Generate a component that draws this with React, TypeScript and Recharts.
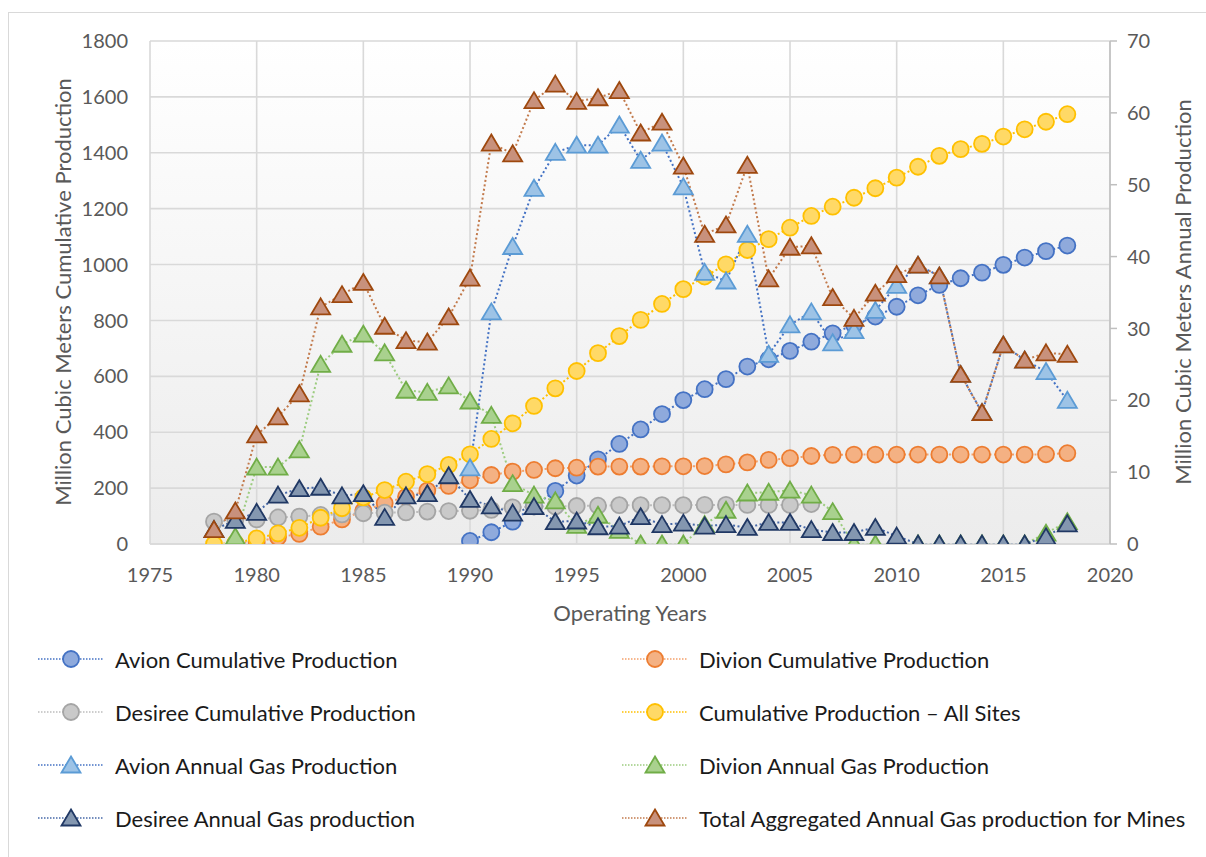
import React from 'react';
import { ComposedChart, Line, XAxis, YAxis, CartesianGrid } from 'recharts';

const years = [
  1978, 1979, 1980, 1981, 1982, 1983, 1984, 1985, 1986, 1987, 1988, 1989, 1990, 1991,
  1992, 1993, 1994, 1995, 1996, 1997, 1998, 1999, 2000, 2001, 2002, 2003, 2004, 2005,
  2006, 2007, 2008, 2009, 2010, 2011, 2012, 2013, 2014, 2015, 2016, 2017, 2018,
];

const avionCumulative = [
  null, null, null, null, null, null, null, null, null, null, null, null,
  11, 42, 80, 135, 190, 245, 303, 358, 410, 465, 515, 554, 590, 635, 661, 691, 724, 754,
  784, 814, 849, 890, 927, 951, 971, 999, 1025, 1048, 1068,
];

const divionCumulative = [
  null, 2, 8, 24, 36, 62, 88, 119, 146, 169, 191, 208, 228, 247, 259, 265, 271, 273, 277,
  277, 277, 278, 278, 279, 285, 292, 301, 307, 315, 319, 320, 320, 320, 320, 320, 320,
  320, 320, 320, 321, 325,
];

const desireeCumulative = [
  80, 86, 88, 95, 98, 104, 106, 110, 112, 113, 116, 118, 119, 122, 131, 134, 134, 136, 137,
  139, 139, 139, 139, 140, 140, 140, 140, 140, 143, null, null, null, null, null, null,
  null, null, null, null, null, null,
];

const allSitesCumulative = [
  0, 3, 20, 38, 58, 94, 128, 167, 193, 223, 250, 283, 321, 376, 432, 494, 557, 619, 683,
  744, 802, 859, 912, 957, 1001, 1052, 1091, 1132, 1174, 1207, 1239, 1273, 1311, 1350,
  1389, 1413, 1432, 1458, 1484, 1511, 1538,
];

const avionAnnual = [
  null, null, null, null, null, null, null, null, null, null, null, null,
  10.6, 32.3, 41.4, 49.5, 54.5, 55.5, 55.5, 58.3, 53.4, 55.8, 49.7, 37.8, 36.6, 43.1, 26.4,
  30.5, 32.3, 28.0, 29.7, 32.5, 36.0, 38.8, 37.3, 23.6, 18.3, 27.7, 25.6, 24.0, 20.0,
];

const divionAnnual = [
  null, 1.0, 10.7, 10.7, 13.1, 25.0, 27.8, 29.2, 26.6, 21.4, 21.1, 22.0, 19.9, 17.9, 8.4,
  6.8, 6.0, 2.6, 4.0, 1.9, 0, 0, 0, 2.7, 4.7, 7.1, 7.2, 7.5, 6.8, 4.5, 0, 0, 0, 0, 0, 0,
  0, 0, 0, 1.5, 3.1,
];

const desireeAnnual = [
  2.0, 3.3, 4.4, 6.8, 7.7, 7.9, 6.7, 7.0, 3.7, 6.7, 7.0, 9.5, 6.2, 5.3, 4.3, 5.2, 3.1, 3.2,
  2.4, 2.5, 3.8, 2.7, 2.9, 2.5, 2.7, 2.3, 3.0, 3.0, 2.0, 1.6, 1.6, 2.3, 1.1, 0, 0, 0, 0,
  0, 0, 1.0, 2.8,
];

const totalAnnual = [
  2.0, 4.6, 15.2, 17.7, 20.9, 33.0, 34.7, 36.4, 30.3, 28.3, 28.1, 31.6, 37.0, 55.8, 54.3,
  61.7, 64.0, 61.6, 62.1, 63.1, 57.2, 58.7, 52.6, 43.1, 44.4, 52.7, 36.9, 41.3, 41.5, 34.3,
  31.4, 34.9, 37.5, 38.8, 37.3, 23.6, 18.3, 27.7, 25.6, 26.6, 26.4,
];

const xTicks = [1975, 1980, 1985, 1990, 1995, 2000, 2005, 2010, 2015, 2020];
const leftTicks = [0, 200, 400, 600, 800, 1000, 1200, 1400, 1600, 1800];
const rightTicks = [0, 10, 20, 30, 40, 50, 60, 70];

const xTitle = 'Operating Years';
const leftTitle = 'Million Cubic Meters Cumulative Production';
const rightTitle = 'Million Cubic Meters Annual Production';

type SeriesDef = {
  key: string;
  name: string;
  axis: 'left' | 'right';
  shape: 'circle' | 'triangle';
  fill: string;
  stroke: string;
  line: string;
  values: (number | null)[];
};

const series: SeriesDef[] = [
  { key: 'avionCum', name: 'Avion Cumulative Production', axis: 'left', shape: 'circle', fill: '#8faadc', stroke: '#4472c4', line: '#4472c4', values: avionCumulative },
  { key: 'divionCum', name: 'Divion Cumulative Production', axis: 'left', shape: 'circle', fill: '#f4b183', stroke: '#ed7d31', line: '#f4a06a', values: divionCumulative },
  { key: 'desireeCum', name: 'Desiree Cumulative Production', axis: 'left', shape: 'circle', fill: '#c9c9c9', stroke: '#a5a5a5', line: '#bdbdbd', values: desireeCumulative },
  { key: 'allCum', name: 'Cumulative Production \u2013 All Sites', axis: 'left', shape: 'circle', fill: '#ffd966', stroke: '#ffc000', line: '#ffc000', values: allSitesCumulative },
  { key: 'avionAnn', name: 'Avion Annual Gas Production', axis: 'right', shape: 'triangle', fill: '#9dc3e6', stroke: '#5b9bd5', line: '#4472c4', values: avionAnnual },
  { key: 'divionAnn', name: 'Divion Annual Gas Production', axis: 'right', shape: 'triangle', fill: '#a9d18e', stroke: '#70ad47', line: '#9ccc7f', values: divionAnnual },
  { key: 'desireeAnn', name: 'Desiree Annual Gas production', axis: 'right', shape: 'triangle', fill: '#8497b0', stroke: '#203864', line: '#4668a8', values: desireeAnnual },
  { key: 'totalAnn', name: 'Total Aggregated Annual Gas production for Mines', axis: 'right', shape: 'triangle', fill: '#c8917c', stroke: '#9e480e', line: '#c27a4c', values: totalAnnual },
];

const data = years.map((year, i) => {
  const row: Record<string, number | null> = { year };
  series.forEach((s) => {
    row[s.key] = s.values[i];
  });
  return row;
});

const FONT = 'Lato, "Open Sans", sans-serif';
const TEXT_GRAY = '#595959';

function Marker({ shape, cx, cy, fill, stroke }: { shape: string; cx: number; cy: number; fill: string; stroke: string }) {
  if (shape === 'circle') {
    return <circle cx={cx} cy={cy} r={8} fill={fill} stroke={stroke} strokeWidth={1.8} />;
  }
  const pts = `${cx},${cy - 8.5} ${cx + 9.5},${cy + 7.5} ${cx - 9.5},${cy + 7.5}`;
  return <polygon points={pts} fill={fill} stroke={stroke} strokeWidth={1.8} strokeLinejoin="miter" />;
}

const makeDot = (s: SeriesDef) => (props: any) => {
  const { cx, cy, value, index } = props;
  if (value == null || cx == null || cy == null || Number.isNaN(cy)) {
    return <g key={`${s.key}-${index}`} />;
  }
  return (
    <g key={`${s.key}-${index}`}>
      <Marker shape={s.shape} cx={cx} cy={cy} fill={s.fill} stroke={s.stroke} />
    </g>
  );
};

const legendLeft = [series[0], series[2], series[4], series[6]];
const legendRight = [series[1], series[3], series[5], series[7]];
const legendRowsY = [659, 712, 765, 818];

function LegendItem({ s, x, y }: { s: SeriesDef; x: number; y: number }) {
  return (
    <div style={{ position: 'absolute', left: x, top: y - 15, height: 30, display: 'flex', alignItems: 'center' }}>
      <svg width={66} height={30} style={{ display: 'block' }}>
        <line x1={0} y1={15} x2={66} y2={15} stroke={s.line} strokeWidth={1.5} strokeDasharray="1.5 1.5" />
        <Marker shape={s.shape} cx={33} cy={15} fill={s.fill} stroke={s.stroke} />
      </svg>
      <span style={{ marginLeft: 11, fontSize: 22, color: '#1a1a1a', fontFamily: FONT, whiteSpace: 'nowrap' }}>{s.name}</span>
    </div>
  );
}

export default function App() {
  return (
    <div style={{ position: 'absolute', left: 0, top: 0, width: 1206, height: 857, background: '#fff', overflow: 'hidden', fontFamily: FONT }}>
      <div style={{ position: 'absolute', left: 8, top: 12, width: 1300, height: 900, border: '1.5px solid #d9d9d9', boxSizing: 'border-box' }} />
      <div style={{ position: 'absolute', left: 0, top: 0 }}>
        <ComposedChart width={1206} height={857} data={data} margin={{ top: 41, right: 0, left: 0, bottom: 273 }}>
          <defs>
            <linearGradient id="plotBg" x1="0" y1="0" x2="0" y2="1">
              <stop offset="0%" stopColor="#ffffff" />
              <stop offset="100%" stopColor="#ececec" />
            </linearGradient>
          </defs>
          <CartesianGrid yAxisId="left" stroke="#d9d9d9" strokeWidth={1.6} fill="url(#plotBg)" horizontal vertical />
          <XAxis
            dataKey="year"
            type="number"
            domain={[1975, 2020]}
            ticks={xTicks}
            allowDataOverflow
            height={40}
            tickLine={false}
            axisLine={{ stroke: '#d9d9d9', strokeWidth: 1.6 }}
            tickSize={0}
            tickMargin={24}
            tick={{ fill: TEXT_GRAY, fontSize: 20, fontFamily: FONT }}
            interval={0}
          />
          <YAxis
            yAxisId="left"
            orientation="left"
            width={150}
            domain={[0, 1800]}
            ticks={leftTicks}
            allowDataOverflow
            tickLine={false}
            axisLine={false}
            tickSize={6}
            tickMargin={16}
            tick={{ fill: TEXT_GRAY, fontSize: 20, fontFamily: FONT }}
            interval={0}
          />
          <YAxis
            yAxisId="right"
            orientation="right"
            width={96}
            domain={[0, 70]}
            ticks={rightTicks}
            allowDataOverflow
            tickLine={{ stroke: '#bfbfbf', strokeWidth: 1.5 }}
            axisLine={{ stroke: '#bfbfbf', strokeWidth: 1.5 }}
            tickSize={7}
            tickMargin={10}
            tick={{ fill: TEXT_GRAY, fontSize: 20, fontFamily: FONT }}
            interval={0}
          />
          {series.map((s) => (
            <Line
              key={s.key}
              yAxisId={s.axis}
              type="linear"
              dataKey={s.key}
              name={s.name}
              stroke={s.line}
              strokeWidth={2}
              strokeDasharray="2 2.5"
              dot={makeDot(s)}
              activeDot={false}
              connectNulls={false}
              isAnimationActive={false}
            />
          ))}
        </ComposedChart>
      </div>
      <div style={{ position: 'absolute', left: 630, top: 612, transform: 'translate(-50%, -50%)', fontSize: 22, color: TEXT_GRAY, whiteSpace: 'nowrap' }}>{xTitle}</div>
      <div style={{ position: 'absolute', left: 62, top: 292, transform: 'translate(-50%, -50%) rotate(-90deg)', fontSize: 22, color: TEXT_GRAY, whiteSpace: 'nowrap' }}>{leftTitle}</div>
      <div style={{ position: 'absolute', left: 1182, top: 292, transform: 'translate(-50%, -50%) rotate(-90deg)', fontSize: 22, color: TEXT_GRAY, whiteSpace: 'nowrap' }}>{rightTitle}</div>
      {legendLeft.map((s, i) => (
        <LegendItem key={s.key} s={s} x={38} y={legendRowsY[i]} />
      ))}
      {legendRight.map((s, i) => (
        <LegendItem key={s.key} s={s} x={622} y={legendRowsY[i]} />
      ))}
    </div>
  );
}
